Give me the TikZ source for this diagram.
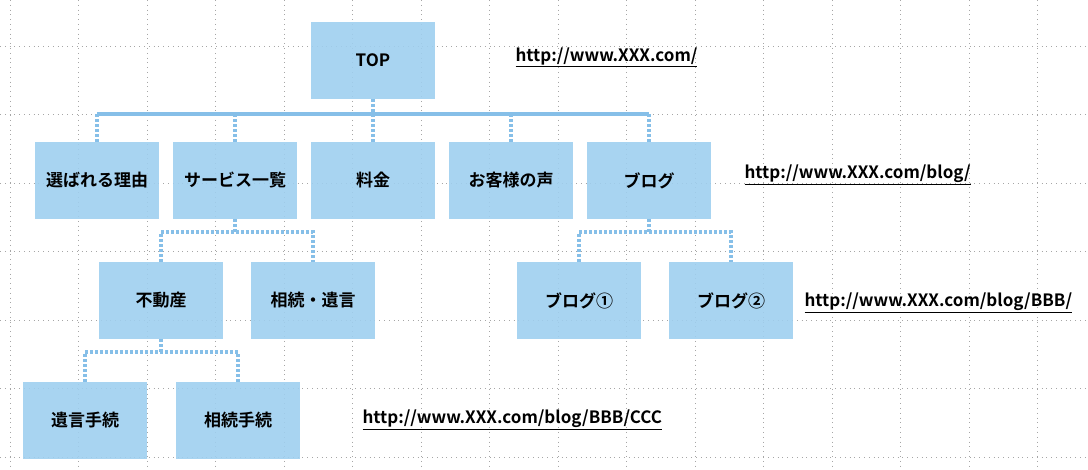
\documentclass[tikz,border=0pt]{standalone}
\usepackage{fontspec}
\setmainfont{Noto Sans CJK JP}[BoldFont={* Bold}]
\usetikzlibrary{calc}
\definecolor{boxblue}{HTML}{9FCFEF}
\definecolor{linkblue}{HTML}{86BFE8}
\begin{document}
\begin{tikzpicture}[x=1pt,y=-1pt,
	page/.style={rectangle, fill=boxblue, fill opacity=0.9, text opacity=1,
	minimum width=124pt, minimum height=77pt, inner sep=0pt, font=\bfseries\fontsize{17}{20}\selectfont},
	link/.style={draw=linkblue, line width=3.2pt, dash pattern=on 2.5pt off 2.5pt},
	url/.style={anchor=west, font=\bfseries\fontsize{17}{20}\selectfont},
	grid/.style={gray!70, line width=0.7pt, dash pattern=on 0.8pt off 4pt}]

\useasboundingbox (0,0) rectangle (1088,470);
\foreach \x in {10,78.5,...,1088} \draw[grid] (\x,0) -- (\x,470);
\foreach \y in {46,114.5,...,470} \draw[grid] (0,\y) -- (1088,\y);

\node[page] at (373,60.5) (top) {TOP};

\node[page] at (97,180.5) (reason) {選ばれる理由};
\node[page] at (235,180.5) (service) {サービス一覧};
\node[page] at (373,180.5) (price) {料金};
\node[page] at (511,180.5) (voice) {お客様の声};
\node[page] at (649,180.5) (blog) {ブログ};

\node[page] at (161,300.5) (estate) {不動産};
\node[page] at (313,300.5) (inherit) {相続・遺言};
\node[page] at (579,300.5) (blogA) {ブログ①};
\node[page] at (731,300.5) (blogB) {ブログ②};

\node[page] at (85,420.5) (will) {遺言手続};
\node[page] at (238,420.5) (proc) {相続手続};

\draw[link] (top.south) -- (top.south |- 0,114);
\foreach \n in {reason,service,price,voice,blog}
	\draw[link] (\n.north) |- (top.south |- 0,114);
\draw[link] (reason.north |- 0,114) -- (blog.north |- 0,114);

\draw[link] (service.south) -- (service.south |- 0,232);
\draw[link] (estate.north) |- (inherit.north |- 0,232) -- (inherit.north);

\draw[link] (blog.south) -- (blog.south |- 0,232);
\draw[link] (blogA.north) |- (blogB.north |- 0,232) -- (blogB.north);

\draw[link] (estate.south) -- (estate.south |- 0,352);
\draw[link] (will.north) |- (proc.north |- 0,352) -- (proc.north);

\node[url] at (512,57) (u1) {\underline{http://www.XXX.com/}};
\node[url] at (741,175) (u2) {\underline{http://www.XXX.com/blog/}};
\node[url] at (801,303) (u3) {\underline{http://www.XXX.com/blog/BBB/}};
\node[url] at (359,420) (u4) {\underline{http://www.XXX.com/blog/BBB/CCC}};
\end{tikzpicture}
\end{document}
